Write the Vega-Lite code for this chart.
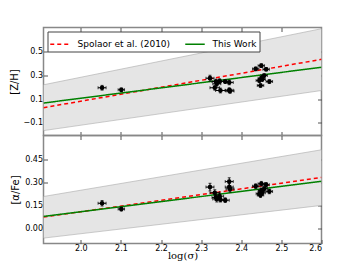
{
  "$schema": "https://vega.github.io/schema/vega-lite/v6.json",
  "padding": {"left": 7.5, "top": 25.5, "right": 5, "bottom": 5},
  "spacing": 0,
  "bounds": "flush",
  "config": {
    "view": {"stroke": "#888888", "strokeWidth": 1.5},
    "font": "DejaVu Sans",
    "axis": {"grid": false, "domain": false, "tickColor": "#555555", "tickSize": -4, "labelPadding": 5, "labelFontSize": 8, "labelColor": "#000000", "titleFontWeight": "normal", "titleColor": "#000000", "labelFont": "DejaVu Sans"}
  },
  "datasets": {
    "pts": [
      {"x": 2.053, "zh": 0.195, "afe": 0.162, "ex": 0.01, "ez": 0.02, "ea": 0.018},
      {"x": 2.101, "zh": 0.178, "afe": 0.124, "ex": 0.008, "ez": 0.015, "ea": 0.012},
      {"x": 2.322, "zh": 0.275, "afe": 0.267, "ex": 0.01, "ez": 0.025, "ea": 0.025},
      {"x": 2.334, "zh": 0.195, "afe": 0.230, "ex": 0.012, "ez": 0.02, "ea": 0.02},
      {"x": 2.337, "zh": 0.247, "afe": 0.200, "ex": 0.01, "ez": 0.02, "ea": 0.02},
      {"x": 2.339, "zh": 0.228, "afe": 0.190, "ex": 0.01, "ez": 0.02, "ea": 0.02},
      {"x": 2.346, "zh": 0.250, "afe": 0.208, "ex": 0.01, "ez": 0.02, "ea": 0.02},
      {"x": 2.348, "zh": 0.172, "afe": 0.185, "ex": 0.012, "ez": 0.02, "ea": 0.015},
      {"x": 2.360, "zh": 0.247, "afe": 0.182, "ex": 0.01, "ez": 0.015, "ea": 0.015},
      {"x": 2.370, "zh": 0.240, "afe": 0.303, "ex": 0.01, "ez": 0.02, "ea": 0.025},
      {"x": 2.370, "zh": 0.175, "afe": 0.267, "ex": 0.01, "ez": 0.02, "ea": 0.025},
      {"x": 2.372, "zh": 0.168, "afe": 0.255, "ex": 0.01, "ez": 0.02, "ea": 0.02},
      {"x": 2.436, "zh": 0.353, "afe": 0.273, "ex": 0.008, "ez": 0.015, "ea": 0.015},
      {"x": 2.450, "zh": 0.380, "afe": 0.289, "ex": 0.008, "ez": 0.015, "ea": 0.015},
      {"x": 2.462, "zh": 0.350, "afe": 0.282, "ex": 0.008, "ez": 0.015, "ea": 0.015},
      {"x": 2.457, "zh": 0.297, "afe": 0.256, "ex": 0.008, "ez": 0.015, "ea": 0.015},
      {"x": 2.450, "zh": 0.275, "afe": 0.245, "ex": 0.008, "ez": 0.015, "ea": 0.015},
      {"x": 2.445, "zh": 0.255, "afe": 0.224, "ex": 0.008, "ez": 0.015, "ea": 0.015},
      {"x": 2.448, "zh": 0.214, "afe": 0.215, "ex": 0.008, "ez": 0.015, "ea": 0.015},
      {"x": 2.470, "zh": 0.247, "afe": 0.239, "ex": 0.008, "ez": 0.015, "ea": 0.015},
      {"x": 2.452, "zh": 0.265, "afe": 0.230, "ex": 0.008, "ez": 0.015, "ea": 0.015}
    ],
    "lines": [
      {"src": "Spolaor et al. (2010)", "x": 1.907, "zh": 0.028, "afe": 0.072},
      {"src": "Spolaor et al. (2010)", "x": 2.6, "zh": 0.433, "afe": 0.33},
      {"src": "This Work", "x": 1.907, "zh": 0.067, "afe": 0.076},
      {"src": "This Work", "x": 2.6, "zh": 0.367, "afe": 0.305}
    ],
    "band": [
      {"x": 1.907, "zlo": -0.164, "zhi": 0.22, "alo": -0.065, "ahi": 0.206},
      {"x": 2.6, "zlo": 0.172, "zhi": 0.69, "alo": 0.148, "ahi": 0.51}
    ]
  },
  "vconcat": [
    {
      "width": 278,
      "height": 108,
      "layer": [
        {
          "data": {"name": "band"},
          "mark": {"type": "area", "fill": "#e5e5e5", "stroke": "#aaaaaa", "strokeWidth": 0.6, "clip": true},
          "encoding": {
            "x": {"field": "x", "type": "quantitative", "scale": {"domain": [1.907, 2.6], "nice": false, "zero": false}, "axis": {"orient": "bottom", "values": [2.0, 2.1, 2.2, 2.3, 2.4, 2.5], "labels": false, "title": null}},
            "y": {"field": "zlo", "type": "quantitative", "scale": {"domain": [-0.205, 0.7], "nice": false, "zero": false}, "axis": {"orient": "left", "values": [-0.1, 0.1, 0.3, 0.5], "format": ".1f", "title": "[Z/H]", "titleFontSize": 10, "titlePadding": 4}},
            "y2": {"field": "zhi"}
          }
        },
        {
          "data": {"name": "lines"},
          "mark": {"type": "line", "strokeWidth": 1.5, "clip": true},
          "encoding": {
            "x": {"field": "x", "type": "quantitative", "axis": null},
            "y": {"field": "zh", "type": "quantitative", "axis": null},
            "color": {"field": "src", "type": "nominal", "scale": {"domain": ["Spolaor et al. (2010)", "This Work"], "range": ["#ff0000", "#008000"]}, "legend": {"title": null, "orient": "top-left", "direction": "horizontal", "columns": 2, "offset": 4, "symbolType": "stroke", "symbolSize": 380, "symbolStrokeWidth": 1.5, "labelFontSize": 9, "labelFont": "DejaVu Sans", "columnPadding": 11, "labelOffset": 7, "padding": 2, "rowPadding": 0, "fillColor": "#ffffff", "strokeColor": "#444444"}},
            "strokeDash": {"field": "src", "type": "nominal", "scale": {"domain": ["Spolaor et al. (2010)", "This Work"], "range": [[4, 3], [1, 0]]}, "legend": {"title": null, "orient": "top-left", "direction": "horizontal", "columns": 2, "offset": 4, "symbolType": "stroke", "symbolSize": 380, "symbolStrokeWidth": 1.5, "labelFontSize": 9, "labelFont": "DejaVu Sans", "columnPadding": 11, "labelOffset": 7, "padding": 2, "rowPadding": 0, "fillColor": "#ffffff", "strokeColor": "#444444"}}
          }
        },
        {
          "data": {"name": "pts"},
          "mark": {"type": "errorbar", "ticks": {"size": 3}, "color": "#000000"},
          "encoding": {
            "x": {"field": "x", "type": "quantitative", "axis": null},
            "xError": {"field": "ex"},
            "y": {"field": "zh", "type": "quantitative", "axis": null}
          }
        },
        {
          "data": {"name": "pts"},
          "mark": {"type": "errorbar", "ticks": {"size": 3}, "color": "#000000"},
          "encoding": {
            "y": {"field": "zh", "type": "quantitative", "axis": null},
            "yError": {"field": "ez"},
            "x": {"field": "x", "type": "quantitative", "axis": null}
          }
        },
        {
          "data": {"name": "pts"},
          "mark": {"type": "circle", "color": "#000000", "opacity": 1, "size": 22},
          "encoding": {
            "x": {"field": "x", "type": "quantitative", "axis": {"orient": "top", "values": [2.0, 2.1, 2.2, 2.3, 2.4, 2.5], "labels": false, "title": null}},
            "y": {"field": "zh", "type": "quantitative", "axis": {"orient": "right", "values": [-0.1, 0.1, 0.3, 0.5], "labels": false, "title": null}}
          }
        }
      ],
      "resolve": {"axis": {"x": "independent", "y": "independent"}}
    },
    {
      "width": 278,
      "height": 108,
      "layer": [
        {
          "data": {"name": "band"},
          "mark": {"type": "area", "fill": "#e5e5e5", "stroke": "#aaaaaa", "strokeWidth": 0.6, "clip": true},
          "encoding": {
            "x": {"field": "x", "type": "quantitative", "scale": {"domain": [1.907, 2.6], "nice": false, "zero": false}, "axis": {"orient": "bottom", "values": [2.0, 2.1, 2.2, 2.3, 2.4, 2.5, 2.6], "format": ".1f", "title": "log(σ)", "titleFont": "DejaVu Serif", "titleFontSize": 10, "titlePadding": -2}},
            "y": {"field": "alo", "type": "quantitative", "scale": {"domain": [-0.1, 0.603], "nice": false, "zero": false}, "axis": {"orient": "left", "values": [0.0, 0.15, 0.3, 0.45], "format": ".2f", "title": "[α/Fe]", "titleFontSize": 10, "titlePadding": 4}},
            "y2": {"field": "ahi"}
          }
        },
        {
          "data": {"name": "lines"},
          "mark": {"type": "line", "strokeWidth": 1.5, "clip": true},
          "encoding": {
            "x": {"field": "x", "type": "quantitative", "axis": null},
            "y": {"field": "afe", "type": "quantitative", "axis": null},
            "color": {"field": "src", "type": "nominal", "scale": {"domain": ["Spolaor et al. (2010)", "This Work"], "range": ["#ff0000", "#008000"]}, "legend": null},
            "strokeDash": {"field": "src", "type": "nominal", "scale": {"domain": ["Spolaor et al. (2010)", "This Work"], "range": [[4, 3], [1, 0]]}, "legend": null}
          }
        },
        {
          "data": {"name": "pts"},
          "mark": {"type": "errorbar", "ticks": {"size": 3}, "color": "#000000"},
          "encoding": {
            "x": {"field": "x", "type": "quantitative", "axis": null},
            "xError": {"field": "ex"},
            "y": {"field": "afe", "type": "quantitative", "axis": null}
          }
        },
        {
          "data": {"name": "pts"},
          "mark": {"type": "errorbar", "ticks": {"size": 3}, "color": "#000000"},
          "encoding": {
            "y": {"field": "afe", "type": "quantitative", "axis": null},
            "yError": {"field": "ea"},
            "x": {"field": "x", "type": "quantitative", "axis": null}
          }
        },
        {
          "data": {"name": "pts"},
          "mark": {"type": "circle", "color": "#000000", "opacity": 1, "size": 22},
          "encoding": {
            "x": {"field": "x", "type": "quantitative", "axis": {"orient": "top", "values": [2.0, 2.1, 2.2, 2.3, 2.4, 2.5], "labels": false, "title": null}},
            "y": {"field": "afe", "type": "quantitative", "axis": {"orient": "right", "values": [0.0, 0.15, 0.3, 0.45], "labels": false, "title": null}}
          }
        }
      ],
      "resolve": {"axis": {"x": "independent", "y": "independent"}}
    }
  ],
  "resolve": {"scale": {"color": "shared", "strokeDash": "shared"}}
}
